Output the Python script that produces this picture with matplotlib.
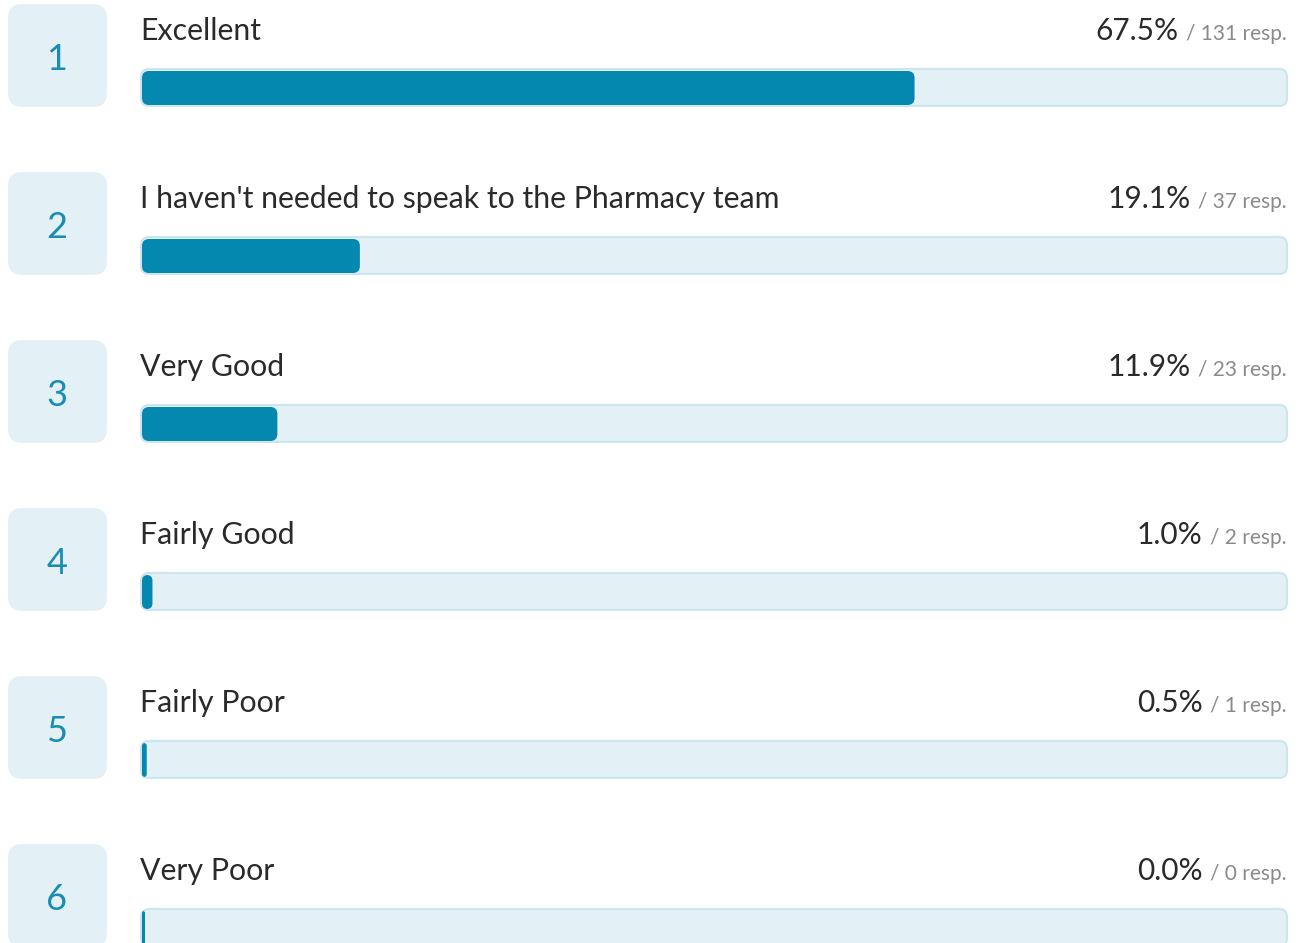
import matplotlib
matplotlib.use("Agg")
import matplotlib.pyplot as plt
from matplotlib.patches import FancyBboxPatch

labels = ["Excellent",
          "I haven't needed to speak to the Pharmacy team",
          "Very Good",
          "Fairly Good",
          "Fairly Poor",
          "Very Poor"]
percents = [67.5, 19.1, 11.9, 1.0, 0.5, 0.0]
counts = [131, 37, 23, 2, 1, 0]
ranks = [1, 2, 3, 4, 5, 6]

W, H = 1298, 943
plt.rcParams['font.family'] = ['Lato', 'DejaVu Sans']

fig = plt.figure(figsize=(W / 100, H / 100), dpi=100)
ax = fig.add_axes([0, 0, 1, 1])
ax.set_xlim(0, W)
ax.set_ylim(H, 0)
ax.axis('off')

row_h = 168
x0, x1 = 141, 1287
track_w = x1 - x0
fill_c = '#0588b0'
light = '#e3f1f7'

fig.canvas.draw()
rend = fig.canvas.get_renderer()

for i, (lab, p, n, r) in enumerate(zip(labels, percents, counts, ranks)):
    top = 4 + i * row_h
    # rank box
    ax.add_patch(FancyBboxPatch((8, top), 99, 103,
                                boxstyle="round,pad=0,rounding_size=14",
                                fc=light, ec='none'))
    ax.text(57, top + 55, str(r), ha='center', va='center',
            fontsize=26, color='#1a8db3')
    # label
    ax.text(x0 - 1, top + 27, lab, ha='left', va='center',
            fontsize=21.8, color='#2a2a2a')
    # counts on right
    t = ax.text(x1, top + 30, f"/ {n} resp.", ha='right', va='center',
                fontsize=15, color='#8a8a8a')
    bb = t.get_window_extent(renderer=rend)
    ax.text(x1 - bb.width - 8, top + 27, f"{p:.1f}%", ha='right',
            va='center', fontsize=21.5, color='#2a2a2a')
    # track
    ax.add_patch(FancyBboxPatch((x0, top + 65), track_w, 37,
                                boxstyle="round,pad=0,rounding_size=8",
                                fc=light, ec='#cde5ee', lw=1.5))
    fw = max(p / 100 * track_w, 4)
    rs = min(7, fw / 2)
    ax.add_patch(FancyBboxPatch((x0 + 1, top + 67), fw - 1, 34,
                                boxstyle=f"round,pad=0,rounding_size={rs}",
                                fc=fill_c, ec='none'))

fig.savefig('out.png', dpi=100)
